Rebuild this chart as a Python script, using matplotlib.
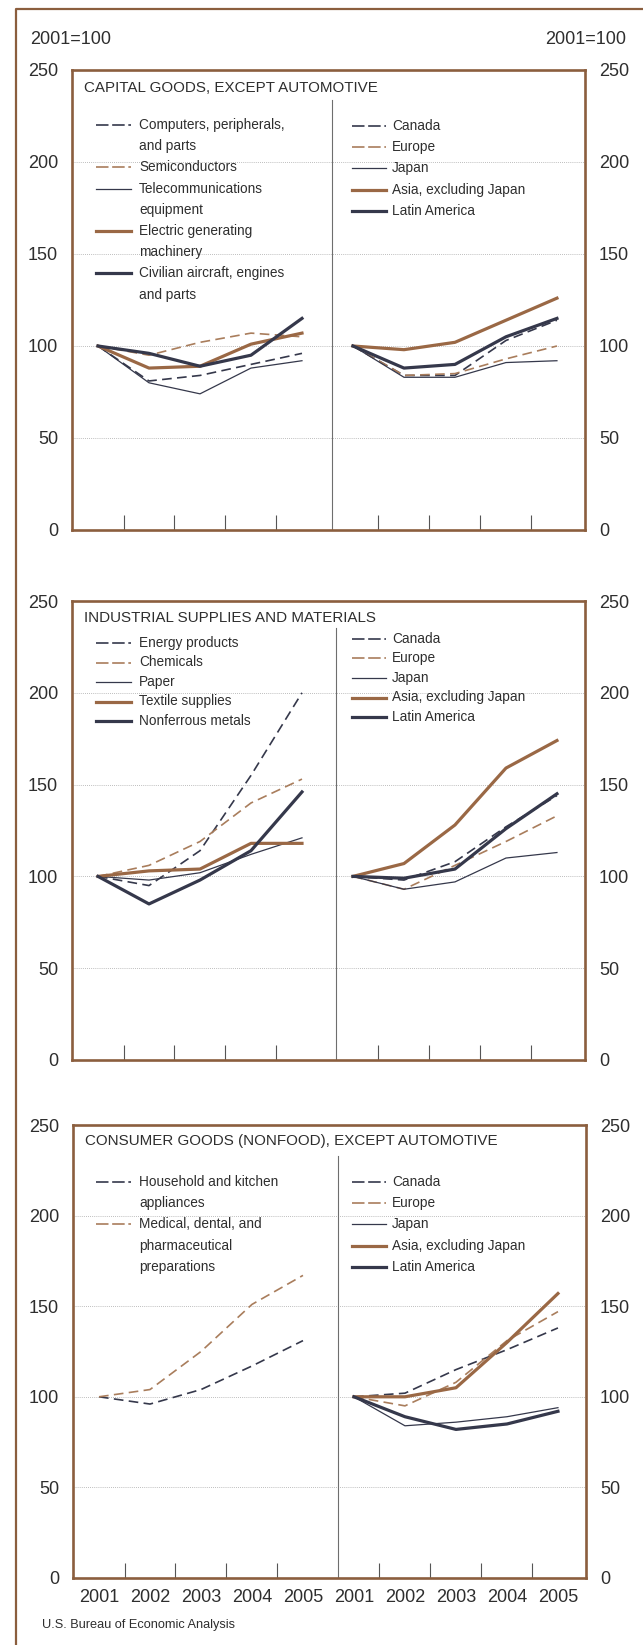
import matplotlib
matplotlib.use('Agg')
from matplotlib import pyplot as plt
from matplotlib.lines import Line2D

plt.rcParams['font.family'] = ['Liberation Sans', 'DejaVu Sans']

YEARS = ['2001', '2002', '2003', '2004', '2005']
Y_TICKS = [0, 50, 100, 150, 200, 250]

# capital goods, except automotive
cap_computers = [100, 81, 84, 90, 96]
cap_semis = [100, 95, 102, 107, 105]
cap_telecom = [100, 80, 74, 88, 92]
cap_electric = [100, 88, 89, 101, 107]
cap_aircraft = [100, 96, 89, 95, 115]
cap_canada = [100, 84, 84, 103, 114]
cap_europe = [100, 84, 85, 93, 100]
cap_japan = [100, 83, 83, 91, 92]
cap_asia = [100, 98, 102, 114, 126]
cap_latin = [100, 88, 90, 105, 115]

# industrial supplies and materials
ind_energy = [100, 95, 114, 155, 200]
ind_chemicals = [100, 106, 119, 140, 153]
ind_paper = [100, 98, 102, 112, 121]
ind_textile = [100, 103, 104, 118, 118]
ind_nonferrous = [100, 85, 98, 114, 146]
ind_canada = [100, 98, 108, 127, 144]
ind_europe = [100, 93, 106, 119, 133]
ind_japan = [100, 93, 97, 110, 113]
ind_asia = [100, 107, 128, 159, 174]
ind_latin = [100, 99, 104, 126, 145]

# consumer goods (nonfood), except automotive
con_household = [100, 96, 104, 117, 131]
con_medical = [100, 104, 125, 151, 167]
con_canada = [100, 102, 115, 126, 138]
con_europe = [100, 95, 108, 131, 147]
con_japan = [100, 84, 86, 89, 94]
con_asia = [100, 100, 105, 130, 157]
con_latin = [100, 89, 82, 85, 92]

W, H = 643, 1645
BROWN = '#8b5e3e'
TEXT = '#2e2e2e'
DARK = '#35384b'

STYLES = {
    'dark_dash': dict(color=DARK, lw=1.2, dashes=(5.8, 3.2)),
    'brown_dash': dict(color='#a97d5c', lw=1.2, dashes=(5.8, 3.2)),
    'thin': dict(color=DARK, lw=0.9),
    'brown': dict(color='#9a6845', lw=2.3),
    'dark': dict(color=DARK, lw=2.3),
}
LEGEND_DASH = (7.5, 2.2)


def fx(x):
    return x / W


def fy(y):
    return 1 - y / H


def region_series(c, e, j, a, l):
    return [(['Canada'], c, 'dark_dash'),
            (['Europe'], e, 'brown_dash'),
            (['Japan'], j, 'thin'),
            (['Asia, excluding Japan'], a, 'brown'),
            (['Latin America'], l, 'dark')]


panels = [
    dict(title='CAPITAL GOODS, EXCEPT AUTOMOTIVE', box=(72, 70, 585, 530),
         divider=(4.59, 100), title_y=88, rows=(125, 126), pitch=21.2,
         left=[(['Computers, peripherals,', 'and parts'], cap_computers, 'dark_dash'),
               (['Semiconductors'], cap_semis, 'brown_dash'),
               (['Telecommunications', 'equipment'], cap_telecom, 'thin'),
               (['Electric generating', 'machinery'], cap_electric, 'brown'),
               (['Civilian aircraft, engines', 'and parts'], cap_aircraft, 'dark')],
         right=region_series(cap_canada, cap_europe, cap_japan, cap_asia, cap_latin)),
    dict(title='INDUSTRIAL SUPPLIES AND MATERIALS', box=(72, 601, 585, 1060),
         divider=(4.67, 628), title_y=618, rows=(643, 639), pitch=19.5,
         left=[(['Energy products'], ind_energy, 'dark_dash'),
               (['Chemicals'], ind_chemicals, 'brown_dash'),
               (['Paper'], ind_paper, 'thin'),
               (['Textile supplies'], ind_textile, 'brown'),
               (['Nonferrous metals'], ind_nonferrous, 'dark')],
         right=region_series(ind_canada, ind_europe, ind_japan, ind_asia, ind_latin)),
    dict(title='CONSUMER GOODS (NONFOOD), EXCEPT AUTOMOTIVE', box=(73, 1125, 586, 1578),
         divider=(4.69, 1156), title_y=1141, rows=(1182, 1182), pitch=21.2,
         left=[(['Household and kitchen', 'appliances'], con_household, 'dark_dash'),
               (['Medical, dental, and', 'pharmaceutical', 'preparations'], con_medical, 'brown_dash')],
         right=region_series(con_canada, con_europe, con_japan, con_asia, con_latin)),
]

fig = plt.figure(figsize=(W / 100, H / 100), dpi=100)
fig.patch.set_facecolor('white')

# outer frame (only its left and top edges fall inside the picture)
fig.add_artist(Line2D([fx(16), fx(16), fx(W + 5)], [fy(H + 5), fy(9), fy(9)],
                      transform=fig.transFigure, color=BROWN, lw=1.6))
fig.text(fx(30), fy(40), '2001=100', fontsize=13, color=TEXT, va='center', ha='left')
fig.text(fx(626), fy(40), '2001=100', fontsize=13, color=TEXT, va='center', ha='right')

left_x = list(range(5))
right_x = [i + 5 for i in range(5)]

for n, p in enumerate(panels):
    x0, y0, x1, y1 = p['box']
    ax = fig.add_axes([fx(x0), fy(y1), fx(x1 - x0), (y1 - y0) / H])
    ax.set_xlim(-0.51, 9.55)
    ax.set_ylim(0, 250)

    for labels, vals, st in p['left']:
        ax.plot(left_x, vals, dash_capstyle='butt', **STYLES[st])
    for labels, vals, st in p['right']:
        ax.plot(right_x, vals, dash_capstyle='butt', **STYLES[st])

    for s in ax.spines.values():
        s.set_color(BROWN)
        s.set_linewidth(1.9)

    ax.set_yticks(Y_TICKS)
    ax.yaxis.grid(True, linestyle=(0, (1, 1.5)), color='#a8a8a8', lw=0.6)
    ax.set_axisbelow(True)
    ax.tick_params(axis='y', length=0, labelsize=13, labelcolor=TEXT, pad=10,
                   left=True, right=True, labelleft=True, labelright=True)

    ax.set_xticks([0.5, 1.5, 2.5, 3.5, 5.5, 6.5, 7.5, 8.5], minor=True)
    ax.tick_params(axis='x', which='minor', direction='in', length=11,
                   width=0.8, color='#555555')
    ax.set_xticks(left_x + right_x)
    if n == len(panels) - 1:
        ax.set_xticklabels(YEARS + YEARS)
    else:
        ax.set_xticklabels([])
    ax.tick_params(axis='x', which='major', length=0, labelsize=13,
                   labelcolor=TEXT, pad=8)

    div_x, div_top = p['divider']
    ax.axvline(div_x, ymin=0, ymax=1 - (div_top - y0) / (y1 - y0),
               color='#6e6e6e', lw=0.8)

    fig.text(fx(x0 + 12), fy(p['title_y']), p['title'], fontsize=10.9,
             color=TEXT, va='center', ha='left')

    # legends, drawn by hand so the key sits on the first text line
    for side, (sx0, sx1, tx) in (('left', (96, 131, 139)), ('right', (352, 386, 392))):
        row = p['rows'][0 if side == 'left' else 1]
        for labels, vals, st in p[side]:
            kw = dict(STYLES[st])
            if 'dashes' in kw:
                kw['dashes'] = LEGEND_DASH
            fig.add_artist(Line2D([fx(sx0), fx(sx1)], [fy(row), fy(row)],
                                  transform=fig.transFigure, dash_capstyle='butt', **kw))
            for line in labels:
                fig.text(fx(tx), fy(row), line, fontsize=9.8, color=TEXT,
                         va='center', ha='left')
                row += p['pitch']

fig.text(fx(42), fy(1625), 'U.S. Bureau of Economic Analysis', fontsize=9.2,
         color=TEXT, va='center', ha='left')

fig.savefig('out.png', dpi=100, facecolor='white')
